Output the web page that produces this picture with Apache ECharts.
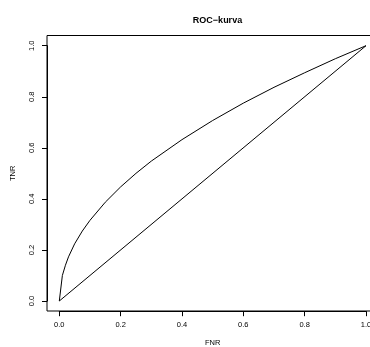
<!DOCTYPE html>
<html>
<head>
<meta charset="utf-8">
<script src="https://cdn.jsdelivr.net/npm/echarts@6/dist/echarts.min.js"></script>
<style>html,body{margin:0;padding:0;background:#fff;}#c{width:370px;height:347px;}</style>
</head>
<body>
<div id="c"></div>
<script>
var rocX = [0, 0.01, 0.02, 0.03, 0.05, 0.075, 0.1, 0.15, 0.2, 0.25, 0.3, 0.4, 0.5, 0.6, 0.7, 0.8, 0.9, 1.0];
var rocY = [0, 0.10, 0.14, 0.173, 0.224, 0.274, 0.316, 0.387, 0.447, 0.5, 0.548, 0.632, 0.707, 0.775, 0.837, 0.894, 0.949, 1.0];
var diagX = [0, 1];
var diagY = [0, 1];
var tickLabels = ['0.0', '0.2', '0.4', '0.6', '0.8', '1.0'];

var font = 'Liberation Sans, Arial, Helvetica, sans-serif';
function pairs(xs, ys) { return xs.map(function (x, i) { return [x, ys[i]]; }); }
function fmt(v) { return tickLabels[Math.round(v * 5)] || ''; }
function hidden(gi) {
  return {type: 'value', gridIndex: gi, min: 0, max: 1, show: false};
}

var chart = echarts.init(document.getElementById('c'), null, {renderer: 'canvas'});
chart.setOption({
  animation: false,
  backgroundColor: '#fff',
  title: {
    text: 'ROC\u2212kurva',
    left: 212.5, top: 11, textAlign: 'center',
    textStyle: {fontFamily: font, fontSize: 9, fontWeight: 'bold', color: '#000'}
  },
  grid: [
    {left: 59.3, top: 45.7, width: 306.7, height: 255.3, outerBoundsMode: 'none', containLabel: false},
    {left: 47, top: 35.5, width: 331, height: 275.5, outerBoundsMode: 'none', containLabel: false,
     show: true, borderColor: '#000', borderWidth: 1, backgroundColor: 'rgba(0,0,0,0)'}
  ],
  xAxis: [{
    type: 'value', gridIndex: 0, min: 0, max: 1, interval: 0.2, position: 'bottom', offset: 10.2,
    name: 'FNR', nameLocation: 'middle', nameGap: 28,
    nameTextStyle: {fontFamily: font, fontSize: 7.5, color: '#000'},
    axisLine: {show: true, onZero: false, lineStyle: {color: '#000', width: 1}},
    axisTick: {show: true, inside: false, length: 5, lineStyle: {color: '#000', width: 1}},
    axisLabel: {show: true, formatter: fmt, margin: 10, fontFamily: font, fontSize: 7.5, color: '#000', showMinLabel: true, showMaxLabel: true},
    splitLine: {show: false}
  }, hidden(1)],
  yAxis: [{
    type: 'value', gridIndex: 0, min: 0, max: 1, interval: 0.2, position: 'left', offset: 12.3,
    name: 'TNR', nameLocation: 'middle', nameGap: 30,
    nameTextStyle: {fontFamily: font, fontSize: 7.5, color: '#000'},
    axisLine: {show: true, onZero: false, lineStyle: {color: '#000', width: 1}},
    axisTick: {show: true, inside: false, length: 5, lineStyle: {color: '#000', width: 1}},
    axisLabel: {show: true, formatter: fmt, rotate: 90, margin: 11, fontFamily: font, fontSize: 7.5, color: '#000', showMinLabel: true, showMaxLabel: true},
    splitLine: {show: false}
  }, hidden(1)],
  series: [
    {type: 'line', xAxisIndex: 0, yAxisIndex: 0, data: pairs(rocX, rocY), showSymbol: false, smooth: false, clip: false, lineStyle: {color: '#000', width: 1}, silent: true},
    {type: 'line', xAxisIndex: 0, yAxisIndex: 0, data: pairs(diagX, diagY), showSymbol: false, clip: false, lineStyle: {color: '#000', width: 1}, silent: true}
  ]
});
</script>
</body>
</html>
